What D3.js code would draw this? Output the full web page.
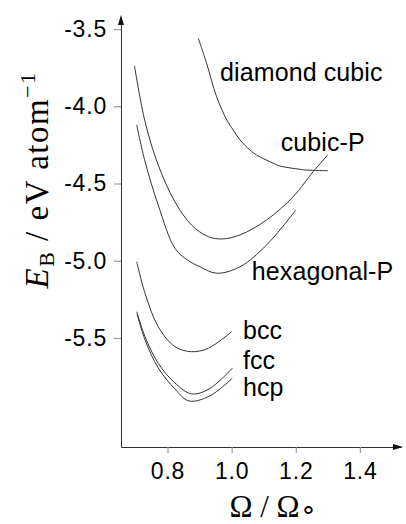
<!DOCTYPE html>
<html>
<head>
<meta charset="utf-8">
<script src="https://cdn.jsdelivr.net/npm/d3@7/dist/d3.min.js"></script>
<style>
  body { margin: 0; background: #fff; }
  svg { display: block; }
</style>
</head>
<body>
<script>
//-----------------------------------------------------------------
//------------------ Data -----------------------------------------

// Omega / Omega_o (x) and binding energy E_B in eV/atom (y) per structure
var diamondX = [0.896, 0.922, 0.953, 0.985, 1.005, 1.026, 1.057, 1.078, 1.130, 1.151, 1.213, 1.234, 1.300];
var diamondY = [-3.560, -3.722, -3.938, -4.089, -4.154, -4.218, -4.283, -4.316, -4.369, -4.387, -4.408, -4.413, -4.417];

var cubicX = [0.697, 0.730, 0.771, 0.823, 0.875, 0.927, 0.970, 1.026, 1.109, 1.192, 1.254, 1.299];
var cubicY = [-3.738, -4.100, -4.380, -4.618, -4.769, -4.844, -4.859, -4.833, -4.736, -4.585, -4.424, -4.316];

var hexX = [0.704, 0.730, 0.771, 0.823, 0.862, 0.901, 0.953, 1.026, 1.109, 1.200];
var hexY = [-4.121, -4.359, -4.639, -4.919, -4.995, -5.039, -5.081, -5.039, -4.898, -4.672];

var bccX = [0.704, 0.730, 0.771, 0.823, 0.875, 0.927, 1.000];
var bccY = [-5.006, -5.211, -5.427, -5.556, -5.589, -5.567, -5.459];

var fccX = [0.704, 0.730, 0.771, 0.823, 0.875, 0.930, 1.002];
var fccY = [-5.330, -5.492, -5.664, -5.791, -5.862, -5.830, -5.696];

var hcpX = [0.705, 0.730, 0.771, 0.823, 0.867, 0.932, 1.002];
var hcpY = [-5.345, -5.513, -5.694, -5.830, -5.908, -5.875, -5.761];

var names = ["diamond cubic", "cubic-P", "hexagonal-P", "bcc", "fcc", "hcp"];

// where each name sits (data units: left edge, baseline)
var labelX = [0.964, 1.153, 1.063, 1.035, 1.035, 1.035];
var labelY = [-3.837, -4.290, -5.125, -5.506, -5.701, -5.877];

var xTicks = [0.8, 1.0, 1.2, 1.4];
var yTicks = [-3.5, -4.0, -4.5, -5.0, -5.5];

//-----------------------------------------------------------------
//--------------------- Creating the svg --------------------------

var width = 406, height = 524;

var svg = d3.select("body")
    .append("svg")
    .attr("width", width)
    .attr("height", height);

//-----------------------------------------------------------------
//------------------------ Scales ---------------------------------

var xScale = d3.scaleLinear().domain([0.655, 1.528]).range([121, 401]);
var yScale = d3.scaleLinear().domain([-6.206, -3.422]).range([447, 17]);

var series = [
    { x: diamondX, y: diamondY },
    { x: cubicX,   y: cubicY },
    { x: hexX,     y: hexY },
    { x: bccX,     y: bccY },
    { x: fccX,     y: fccY },
    { x: hcpX,     y: hcpY }
];

var line = d3.line()
    .x(function(d) { return xScale(d[0]); })
    .y(function(d) { return yScale(d[1]); })
    .curve(d3.curveCatmullRom.alpha(0.5));

//-----------------------------------------------------------------
//------------------------ Axes -----------------------------------

svg.append("g")
    .attr("transform", "translate(" + xScale.range()[0] + ",0)")
    .call(d3.axisLeft(yScale)
        .tickValues(yTicks)
        .tickSize(7)
        .tickSizeOuter(0)
        .tickPadding(7)
        .tickFormat(function(d) { return d.toFixed(1); }));

svg.append("g")
    .attr("transform", "translate(0," + yScale.range()[0] + ")")
    .call(d3.axisBottom(xScale)
        .tickValues(xTicks)
        .tickSize(6)
        .tickSizeOuter(0)
        .tickPadding(10)
        .tickFormat(function(d) { return d.toFixed(1); }));

svg.selectAll(".domain").attr("stroke", "#333").attr("stroke-width", 1);
svg.selectAll(".tick line").attr("stroke", "#999").attr("stroke-width", 1.2);
svg.selectAll(".tick text")
    .attr("fill", "#000")
    .style("font-family", "'Liberation Sans', Arial, sans-serif")
    .style("font-size", "23px")
    .style("letter-spacing", "0.8px");

// arrow heads at the ends of both axes
var x0 = xScale.range()[0], x1 = xScale.range()[1];
var y0 = yScale.range()[0], y1 = yScale.range()[1];
svg.append("path")
    .attr("d", "M" + x0 + "," + (y1 - 2) + "L" + (x0 - 3) + "," + (y1 + 8) + "L" + (x0 + 3) + "," + (y1 + 8) + "Z")
    .attr("fill", "#111");
svg.append("path")
    .attr("d", "M" + (x1 + 2) + "," + y0 + "L" + (x1 - 8) + "," + (y0 - 3) + "L" + (x1 - 8) + "," + (y0 + 3) + "Z")
    .attr("fill", "#111");

//-----------------------------------------------------------------
//------------------------ Curves ---------------------------------

svg.append("g")
    .selectAll("path")
    .data(series)
    .enter()
    .append("path")
    .attr("d", function(s) { return line(d3.zip(s.x, s.y)); })
    .attr("fill", "none")
    .attr("stroke", "#333")
    .attr("stroke-width", 1);

svg.append("g")
    .selectAll("text")
    .data(names)
    .enter()
    .append("text")
    .attr("x", function(d, i) { return xScale(labelX[i]); })
    .attr("y", function(d, i) { return yScale(labelY[i]); })
    .attr("fill", "#000")
    .style("font-family", "'Liberation Sans', Arial, sans-serif")
    .style("font-size", "25px")
    .style("letter-spacing", "0.1px")
    .text(function(d) { return d; });

//-----------------------------------------------------------------
//------------------------ Axis titles ----------------------------

var serif = "'Liberation Serif', 'Times New Roman', serif";

var yTitle = svg.append("text")
    .attr("transform", "translate(48,180) rotate(-90)")
    .attr("text-anchor", "middle")
    .style("font-family", serif)
    .style("font-size", "33px")
    .style("letter-spacing", "1.5px")
    .attr("fill", "#000");
yTitle.append("tspan").style("font-style", "italic").text("E");
yTitle.append("tspan").attr("dy", 6).style("font-size", "22px").text("B");
yTitle.append("tspan").attr("dy", -6).text(" / eV atom");
yTitle.append("tspan").attr("dy", -13).style("font-size", "22px").text("\u22121");

var xTitle = svg.append("text")
    .attr("x", 273)
    .attr("y", 517)
    .attr("text-anchor", "middle")
    .style("font-family", serif)
    .style("font-size", "31px")
    .attr("fill", "#000");
xTitle.append("tspan").text("\u03A9 / \u03A9");
xTitle.append("tspan").attr("dy", 2).style("font-size", "27px").text("\u2218");
</script>
</body>
</html>
